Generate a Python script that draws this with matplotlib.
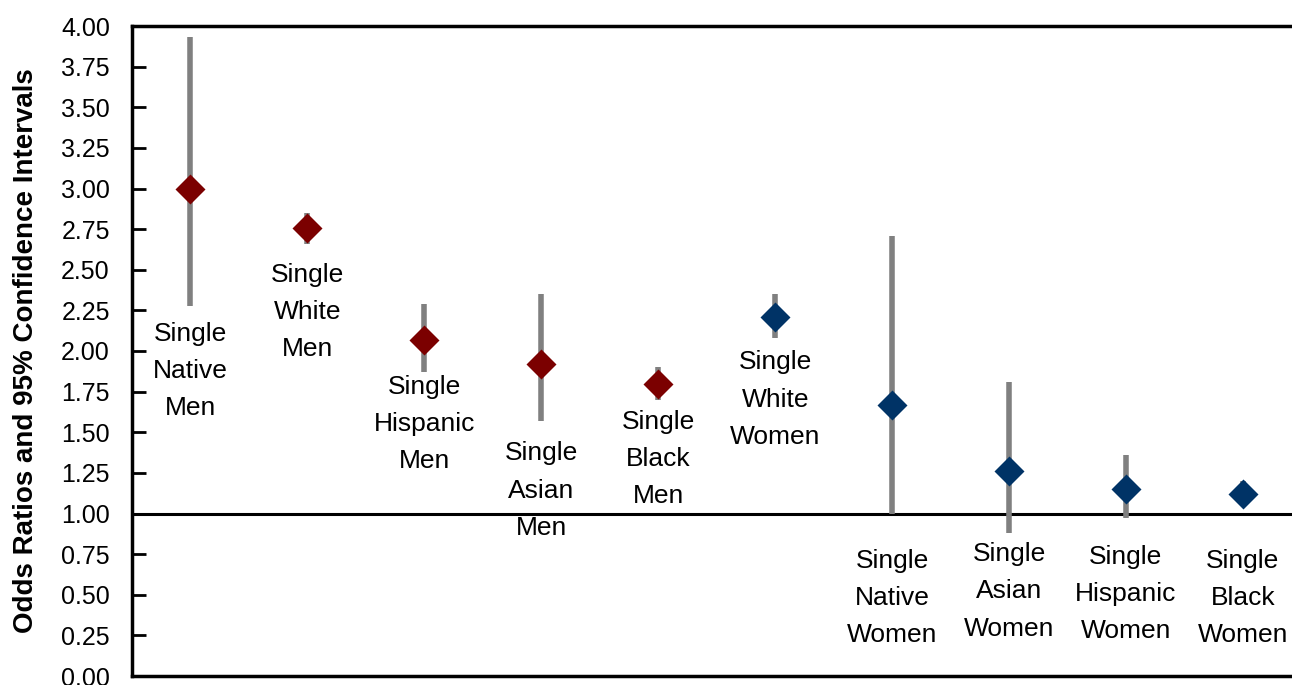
import matplotlib
matplotlib.use("Agg")
import matplotlib.pyplot as plt
import numpy as np

plt.rcParams['font.family'] = ['Liberation Sans', 'DejaVu Sans']

categories = ["Single\nNative\nMen", "Single\nWhite\nMen", "Single\nHispanic\nMen",
              "Single\nAsian\nMen", "Single\nBlack\nMen", "Single\nWhite\nWomen",
              "Single\nNative\nWomen", "Single\nAsian\nWomen", "Single\nHispanic\nWomen",
              "Single\nBlack\nWomen"]
odds_ratio = [3.00, 2.76, 2.065, 1.92, 1.80, 2.21, 1.67, 1.26, 1.15, 1.12]
ci_low = [2.28, 2.66, 1.87, 1.57, 1.70, 2.08, 1.00, 0.88, 0.97, 1.05]
ci_high = [3.93, 2.85, 2.29, 2.35, 1.90, 2.35, 2.71, 1.81, 1.36, 1.20]
group = ["men"] * 5 + ["women"] * 5
yticks = np.arange(0, 4.01, 0.25)

# layout: vertical centre of each label (data units)
label_y = [1.877, 2.24, 1.55, 1.14, 1.335, 1.70, 0.48, 0.52, 0.505, 0.48]

colors = {"men": "#7B0000", "women": "#003366"}

fig = plt.figure(figsize=(12.92, 6.85), dpi=100)
ax = fig.add_axes([132 / 1292, 9 / 685, 1 - 132 / 1292, 650 / 685])

x = np.arange(len(categories))
ax.axhline(1.0, color='black', lw=2.2, zorder=1)
ax.vlines(x, ci_low, ci_high, color='#808080', lw=4, zorder=2)
for xi, yi, g in zip(x, odds_ratio, group):
    ax.plot(xi, yi, marker='D', ms=14.8, color=colors[g], mec='none', zorder=3, linestyle='none')

for xi, ly, lab in zip(x, label_y, categories):
    ax.text(xi, ly, lab, ha='center', va='center', fontsize=19, linespacing=1.7, zorder=4)

ax.set_xlim(-0.5, 9.42)
ax.set_ylim(0, 4)
ax.set_yticks(yticks)
ax.set_yticklabels([f"{v:.2f}" for v in yticks], fontsize=18)
ax.set_xticks([])
ax.tick_params(axis='y', direction='in', length=10, width=2, pad=16)
for s in ['left', 'top', 'bottom']:
    ax.spines[s].set_linewidth(2.5)
ax.spines['right'].set_visible(False)

ax.set_ylabel("Odds Ratios and 95% Confidence Intervals", fontsize=20, fontweight='bold')
ax.yaxis.set_label_coords(-0.080, 0.5)

fig.savefig("out.png", dpi=100)
